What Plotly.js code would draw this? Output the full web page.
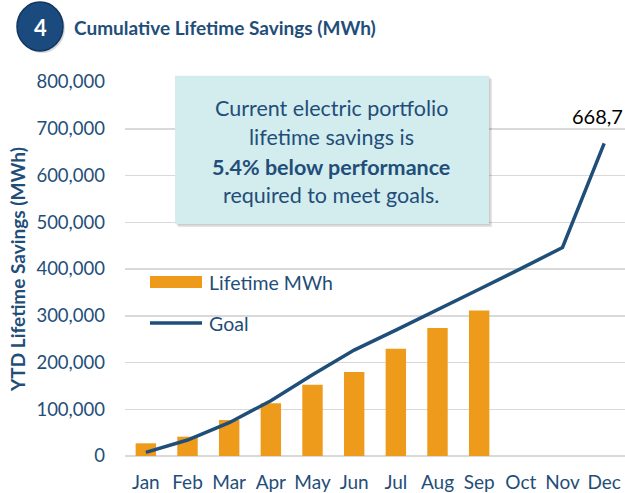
<!DOCTYPE html>
<html>
<head>
<meta charset="utf-8">
<script src="https://cdn.plot.ly/plotly-3.0.1.min.js"></script>
<style>
html,body{margin:0;padding:0;background:#fff;}
#chart{width:625px;height:493px;}
</style>
</head>
<body>
<div id="chart"></div>
<script>
const months = ["Jan","Feb","Mar","Apr","May","Jun","Jul","Aug","Sep","Oct","Nov","Dec"];
const lifetimeMonths = ["Jan","Feb","Mar","Apr","May","Jun","Jul","Aug","Sep"];
const lifetimeMWh = [27100, 41300, 76900, 112600, 152500, 179500, 229400, 273600, 311300];
const goalMWh = [7900, 34200, 71200, 118200, 173800, 226600, 269300, 312000, 356700, 400700, 446000, 668700];
const yTicks = [0, 100000, 200000, 300000, 400000, 500000, 600000, 700000, 800000];
const endLabel = "668,7";
const boxLines = ["Current electric portfolio", "lifetime savings is", "<b>5.4% below performance</b>", "required to meet goals."];

const navy = "#1F4E79";
const orange = "#EE9B1B";
const font = "Lato, 'Open Sans', sans-serif";

const traces = [
  {type:"bar", name:"Lifetime MWh", x:lifetimeMonths, y:lifetimeMWh,
   marker:{color:orange, line:{width:0}}, hoverinfo:"skip"},
  {type:"scatter", mode:"lines", name:"Goal", x:months, y:goalMWh,
   line:{color:navy, width:3.5}, hoverinfo:"skip"}
];

// paper coords helpers: plot area x 125..625, y 82..456
const px = v => (v - 125) / 500;
const py = v => (456 - v) / 374;

const shapes = [
  // callout shadow
  {type:"rect", xref:"paper", yref:"paper", x0:px(178), x1:px(492), y0:py(227), y1:py(79),
   fillcolor:"rgba(0,0,0,0.10)", line:{width:0}, layer:"above"},
  {type:"rect", xref:"paper", yref:"paper", x0:px(176.5), x1:px(490.5), y0:py(225.5), y1:py(77),
   fillcolor:"rgba(0,0,0,0.10)", line:{width:0}, layer:"above"},
  // callout box
  {type:"rect", xref:"paper", yref:"paper", x0:px(175), x1:px(489), y0:py(224), y1:py(75.7),
   fillcolor:"#D3ECEE", line:{width:0}, layer:"above"},
  // title circle shadow + circle
  {type:"circle", xref:"paper", yref:"paper", x0:px(19), x1:px(65), y0:py(53), y1:py(4),
   fillcolor:"rgba(0,0,0,0.15)", line:{width:0}, layer:"above"},
  {type:"circle", xref:"paper", yref:"paper", x0:px(17), x1:px(63), y0:py(51), y1:py(2),
   fillcolor:"#1B4A7E", line:{color:"#123660", width:1.5}, layer:"above"},
  // legend symbols
  {type:"rect", xref:"paper", yref:"paper", x0:px(150), x1:px(202), y0:py(288), y1:py(276),
   fillcolor:orange, line:{width:0}, layer:"above"},
  {type:"line", xref:"paper", yref:"paper", x0:px(150), x1:px(202), y0:py(323), y1:py(323),
   line:{color:navy, width:3.5}, layer:"above"}
];

const annotations = [
  {xref:"paper", yref:"paper", x:px(40), y:py(27), text:"<b>4</b>", showarrow:false,
   xanchor:"center", yanchor:"middle", font:{family:font, size:22, color:"#ffffff"}},
  {xref:"paper", yref:"paper", x:px(72), y:py(27), text:"<b>Cumulative Lifetime Savings (MWh)</b>", showarrow:false,
   xanchor:"left", yanchor:"middle", font:{family:font, size:19, color:navy}},
  {xref:"paper", yref:"paper", x:px(207), y:py(282), text:"Lifetime MWh", showarrow:false,
   xanchor:"left", yanchor:"middle", font:{family:font, size:19.5, color:navy}},
  {xref:"paper", yref:"paper", x:px(207), y:py(323), text:"Goal", showarrow:false,
   xanchor:"left", yanchor:"middle", font:{family:font, size:19.5, color:navy}},
  {xref:"x", yref:"y", x:months[11], y:goalMWh[11], text:endLabel, showarrow:false,
   xanchor:"right", yanchor:"bottom", xshift:21, yshift:13, font:{family:font, size:20, color:"#000000"}}
];
const lineY = [108.3, 137, 166.5, 195];
boxLines.forEach((t, i) => {
  annotations.push({xref:"paper", yref:"paper", x:px(331), y:py(lineY[i]), text:t, showarrow:false,
    xanchor:"center", yanchor:"middle", font:{family:font, size:21.5, color:navy}});
});

const layout = {
  width:625, height:493,
  margin:{l:125, r:0, t:82, b:37, pad:0},
  paper_bgcolor:"#ffffff", plot_bgcolor:"#ffffff",
  showlegend:false,
  bargap:0.51,
  font:{family:font, color:navy},
  xaxis:{type:"category", categoryorder:"array", categoryarray:months, range:[-0.5, 11.5],
    showgrid:false, zeroline:false, showline:false, ticks:"",
    tickfont:{family:font, size:19, color:navy}, ticklabelstandoff:13, fixedrange:true},
  yaxis:{range:[0, 800000], tickvals:yTicks, tickformat:",", showgrid:true,
    gridcolor:"#D9D9D9", gridwidth:1.5, zeroline:true, zerolinecolor:"#D9D9D9", zerolinewidth:1.5,
    showline:false, ticks:"", tickfont:{family:font, size:18.5, color:navy}, ticklabelstandoff:19,
    title:{text:"<b>YTD Lifetime Savings (MWh)</b>", font:{family:font, size:19, color:navy}, standoff:5},
    fixedrange:true},
  shapes:shapes,
  annotations:annotations
};

Plotly.newPlot("chart", traces, layout, {displayModeBar:false, staticPlot:true});
</script>
</body>
</html>
